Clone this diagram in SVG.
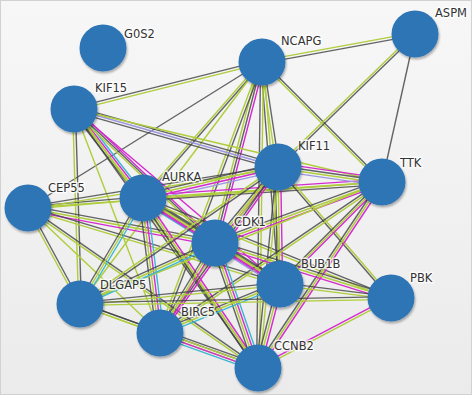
<svg xmlns="http://www.w3.org/2000/svg" width="472" height="395" viewBox="0 0 472 395">
<style>
.k{stroke:#404040;stroke-opacity:.8}
.y{stroke:#afcd3c}
.m{stroke:#d42bce}
.c{stroke:#3cb8d2}
.p{stroke:#9c97e2}
#edges use{stroke-width:1.4;fill:none}
.node circle{fill:#2e74b5;filter:url(#sh)}
.node text{font-family:"DejaVu Sans","Liberation Sans",sans-serif;font-size:11.5px;fill:#333;stroke:#fff;stroke-width:3;stroke-opacity:.75;paint-order:stroke;stroke-linejoin:round}
</style>
<defs>
<linearGradient id="bg" x1="0" y1="0" x2="0" y2="1"><stop offset="0" stop-color="#f7f7f7"/><stop offset="1" stop-color="#ebebeb"/></linearGradient>
<filter id="sh" x="-20%" y="-20%" width="150%" height="150%"><feDropShadow dx="1" dy="2" stdDeviation="1.3" flood-color="#000" flood-opacity=".3"/></filter>
<line id="e1" x1="262" y1="62" x2="415" y2="34"/>
<line id="e2" x1="262" y1="62" x2="74" y2="109"/>
<line id="e3" x1="262" y1="62" x2="278" y2="167"/>
<line id="e4" x1="262" y1="62" x2="382" y2="182"/>
<line id="e5" x1="262" y1="62" x2="143" y2="198"/>
<line id="e6" x1="262" y1="62" x2="215" y2="243"/>
<line id="e7" x1="262" y1="62" x2="280" y2="284"/>
<line id="e8" x1="262" y1="62" x2="258" y2="368"/>
<line id="e9" x1="262" y1="62" x2="80" y2="304"/>
<line id="e10" x1="262" y1="62" x2="160" y2="333"/>
<line id="e11" x1="262" y1="62" x2="28" y2="208"/>
<line id="e12" x1="415" y1="34" x2="278" y2="167"/>
<line id="e13" x1="415" y1="34" x2="382" y2="182"/>
<line id="e14" x1="74" y1="109" x2="278" y2="167"/>
<line id="e15" x1="74" y1="109" x2="382" y2="182"/>
<line id="e16" x1="74" y1="109" x2="143" y2="198"/>
<line id="e17" x1="74" y1="109" x2="215" y2="243"/>
<line id="e18" x1="74" y1="109" x2="280" y2="284"/>
<line id="e19" x1="74" y1="109" x2="258" y2="368"/>
<line id="e21" x1="74" y1="109" x2="80" y2="304"/>
<line id="e22" x1="74" y1="109" x2="160" y2="333"/>
<line id="e23" x1="28" y1="208" x2="143" y2="198"/>
<line id="e24" x1="28" y1="208" x2="215" y2="243"/>
<line id="e25" x1="28" y1="208" x2="280" y2="284"/>
<line id="e26" x1="28" y1="208" x2="80" y2="304"/>
<line id="e27" x1="28" y1="208" x2="160" y2="333"/>
<line id="e28" x1="28" y1="208" x2="258" y2="368"/>
<line id="e29" x1="28" y1="208" x2="278" y2="167"/>
<line id="e30" x1="28" y1="208" x2="382" y2="182"/>
<line id="e31" x1="143" y1="198" x2="278" y2="167"/>
<line id="e32" x1="143" y1="198" x2="382" y2="182"/>
<line id="e33" x1="143" y1="198" x2="215" y2="243"/>
<line id="e34" x1="143" y1="198" x2="280" y2="284"/>
<line id="e35" x1="143" y1="198" x2="80" y2="304"/>
<line id="e36" x1="143" y1="198" x2="160" y2="333"/>
<line id="e37" x1="143" y1="198" x2="258" y2="368"/>
<line id="e38" x1="143" y1="198" x2="391" y2="298"/>
<line id="e39" x1="278" y1="167" x2="382" y2="182"/>
<line id="e40" x1="278" y1="167" x2="215" y2="243"/>
<line id="e41" x1="278" y1="167" x2="280" y2="284"/>
<line id="e42" x1="278" y1="167" x2="258" y2="368"/>
<line id="e43" x1="278" y1="167" x2="80" y2="304"/>
<line id="e44" x1="278" y1="167" x2="160" y2="333"/>
<line id="e45" x1="278" y1="167" x2="391" y2="298"/>
<line id="e46" x1="382" y1="182" x2="215" y2="243"/>
<line id="e47" x1="382" y1="182" x2="280" y2="284"/>
<line id="e48" x1="382" y1="182" x2="258" y2="368"/>
<line id="e50" x1="382" y1="182" x2="80" y2="304"/>
<line id="e51" x1="382" y1="182" x2="160" y2="333"/>
<line id="e52" x1="215" y1="243" x2="280" y2="284"/>
<line id="e53" x1="215" y1="243" x2="258" y2="368"/>
<line id="e54" x1="215" y1="243" x2="80" y2="304"/>
<line id="e55" x1="215" y1="243" x2="160" y2="333"/>
<line id="e56" x1="215" y1="243" x2="391" y2="298"/>
<line id="e57" x1="280" y1="284" x2="391" y2="298"/>
<line id="e58" x1="280" y1="284" x2="258" y2="368"/>
<line id="e59" x1="280" y1="284" x2="80" y2="304"/>
<line id="e60" x1="280" y1="284" x2="160" y2="333"/>
<line id="e61" x1="391" y1="298" x2="258" y2="368"/>
<line id="e62" x1="391" y1="298" x2="80" y2="304"/>
<line id="e63" x1="80" y1="304" x2="160" y2="333"/>
<line id="e64" x1="80" y1="304" x2="258" y2="368"/>
<line id="e65" x1="160" y1="333" x2="258" y2="368"/>
</defs>
<rect x="0.5" y="0.5" width="471" height="394" fill="url(#bg)" stroke="#d2d2d2"/>
<g id="edges">
<use href="#e1" class="y" transform="translate(0,-1.4)"/><use href="#e1" class="k" transform="translate(0,1.4)"/>
<use href="#e2" class="k" transform="translate(0,-1.4)"/><use href="#e2" class="y" transform="translate(0,1.4)"/>
<use href="#e3" class="y" transform="translate(-1.4,0)"/><use href="#e3" class="k" transform="translate(1.4,0)"/>
<use href="#e4" class="k" transform="translate(0,-1.4)"/><use href="#e4" class="y" transform="translate(0,1.4)"/>
<use href="#e5" class="y" transform="translate(-1.4,0)"/><use href="#e5" class="k" transform="translate(1.4,0)"/>
<use href="#e6" class="y" transform="translate(-2.6,0)"/><use href="#e6" class="k"/><use href="#e6" class="m" transform="translate(2.6,0)"/>
<use href="#e7" class="k" transform="translate(-1.4,0)"/><use href="#e7" class="y" transform="translate(1.4,0)"/>
<use href="#e8" class="k" transform="translate(-1.4,0)"/><use href="#e8" class="y" transform="translate(1.4,0)"/>
<use href="#e9" class="y"/>
<use href="#e10" class="y" transform="translate(-1.4,0)"/><use href="#e10" class="k" transform="translate(1.4,0)"/>
<use href="#e11" class="k"/>
<use href="#e12" class="y" transform="translate(0,-1.4)"/><use href="#e12" class="k" transform="translate(0,1.4)"/>
<use href="#e13" class="k"/>
<use href="#e14" class="k" transform="translate(0,-2.6)"/><use href="#e14" class="p"/><use href="#e14" class="k" transform="translate(0,2.6)"/>
<use href="#e15" class="y"/>
<use href="#e16" class="k" transform="translate(-3.9,0)"/><use href="#e16" class="y" transform="translate(-1.3,0)"/><use href="#e16" class="m" transform="translate(1.3,0)"/><use href="#e16" class="c" transform="translate(3.9,0)"/>
<use href="#e17" class="m" transform="translate(0,-2.6)"/><use href="#e17" class="k"/><use href="#e17" class="y" transform="translate(0,2.6)"/>
<use href="#e18" class="m"/>
<use href="#e19" class="k" transform="translate(-1.4,0)"/><use href="#e19" class="y" transform="translate(1.4,0)"/>
<use href="#e21" class="y" transform="translate(-1.4,0)"/><use href="#e21" class="k" transform="translate(1.4,0)"/>
<use href="#e22" class="y"/>
<use href="#e23" class="k" transform="translate(0,-1.4)"/><use href="#e23" class="y" transform="translate(0,1.4)"/>
<use href="#e24" class="k" transform="translate(0,-2.6)"/><use href="#e24" class="y"/><use href="#e24" class="m" transform="translate(0,2.6)"/>
<use href="#e25" class="k" transform="translate(0,-1.4)"/><use href="#e25" class="y" transform="translate(0,1.4)"/>
<use href="#e26" class="y" transform="translate(-1.4,0)"/><use href="#e26" class="k" transform="translate(1.4,0)"/>
<use href="#e27" class="y"/>
<use href="#e28" class="k" transform="translate(0,-1.4)"/><use href="#e28" class="y" transform="translate(0,1.4)"/>
<use href="#e29" class="k" transform="translate(0,-1.4)"/><use href="#e29" class="y" transform="translate(0,1.4)"/>
<use href="#e30" class="y"/>
<use href="#e31" class="k" transform="translate(0,-3.9)"/><use href="#e31" class="y" transform="translate(0,-1.3)"/><use href="#e31" class="m" transform="translate(0,1.3)"/><use href="#e31" class="p" transform="translate(0,3.9)"/>
<use href="#e32" class="m" transform="translate(0,-2.6)"/><use href="#e32" class="y"/><use href="#e32" class="k" transform="translate(0,2.6)"/>
<use href="#e33" class="k" transform="translate(0,-3.9)"/><use href="#e33" class="y" transform="translate(0,-1.3)"/><use href="#e33" class="m" transform="translate(0,1.3)"/><use href="#e33" class="c" transform="translate(0,3.9)"/>
<use href="#e34" class="k" transform="translate(0,-2.6)"/><use href="#e34" class="y"/><use href="#e34" class="m" transform="translate(0,2.6)"/>
<use href="#e35" class="k" transform="translate(-2.6,0)"/><use href="#e35" class="y"/><use href="#e35" class="c" transform="translate(2.6,0)"/>
<use href="#e36" class="k" transform="translate(-3.9,0)"/><use href="#e36" class="y" transform="translate(-1.3,0)"/><use href="#e36" class="m" transform="translate(1.3,0)"/><use href="#e36" class="c" transform="translate(3.9,0)"/>
<use href="#e37" class="k" transform="translate(-2.6,0)"/><use href="#e37" class="y"/><use href="#e37" class="m" transform="translate(2.6,0)"/>
<use href="#e38" class="k" transform="translate(0,-1.4)"/><use href="#e38" class="y" transform="translate(0,1.4)"/>
<use href="#e39" class="m" transform="translate(0,-3.9)"/><use href="#e39" class="k" transform="translate(0,-1.3)"/><use href="#e39" class="y" transform="translate(0,1.3)"/><use href="#e39" class="p" transform="translate(0,3.9)"/>
<use href="#e40" class="k" transform="translate(-2.6,0)"/><use href="#e40" class="y"/><use href="#e40" class="m" transform="translate(2.6,0)"/>
<use href="#e41" class="k" transform="translate(-2.6,0)"/><use href="#e41" class="y"/><use href="#e41" class="m" transform="translate(2.6,0)"/>
<use href="#e42" class="k" transform="translate(-1.4,0)"/><use href="#e42" class="y" transform="translate(1.4,0)"/>
<use href="#e43" class="y" transform="translate(0,-1.4)"/><use href="#e43" class="k" transform="translate(0,1.4)"/>
<use href="#e44" class="y" transform="translate(-2.6,0)"/><use href="#e44" class="k"/><use href="#e44" class="m" transform="translate(2.6,0)"/>
<use href="#e45" class="k" transform="translate(-1.4,0)"/><use href="#e45" class="y" transform="translate(1.4,0)"/>
<use href="#e46" class="k" transform="translate(0,-2.6)"/><use href="#e46" class="y"/><use href="#e46" class="m" transform="translate(0,2.6)"/>
<use href="#e47" class="k" transform="translate(0,-2.6)"/><use href="#e47" class="y"/><use href="#e47" class="m" transform="translate(0,2.6)"/>
<use href="#e48" class="k" transform="translate(-2.6,0)"/><use href="#e48" class="y"/><use href="#e48" class="m" transform="translate(2.6,0)"/>
<use href="#e50" class="y"/>
<use href="#e51" class="k" transform="translate(0,-1.4)"/><use href="#e51" class="y" transform="translate(0,1.4)"/>
<use href="#e52" class="k" transform="translate(0,-3.9)"/><use href="#e52" class="y" transform="translate(0,-1.3)"/><use href="#e52" class="m" transform="translate(0,1.3)"/><use href="#e52" class="p" transform="translate(0,3.9)"/>
<use href="#e53" class="k" transform="translate(-3.9,0)"/><use href="#e53" class="y" transform="translate(-1.3,0)"/><use href="#e53" class="m" transform="translate(1.3,0)"/><use href="#e53" class="c" transform="translate(3.9,0)"/>
<use href="#e54" class="k" transform="translate(0,-2.6)"/><use href="#e54" class="y"/><use href="#e54" class="c" transform="translate(0,2.6)"/>
<use href="#e55" class="k" transform="translate(-2.6,0)"/><use href="#e55" class="y"/><use href="#e55" class="m" transform="translate(2.6,0)"/>
<use href="#e56" class="k" transform="translate(0,-2.6)"/><use href="#e56" class="y"/><use href="#e56" class="m" transform="translate(0,2.6)"/>
<use href="#e57" class="k" transform="translate(0,-1.4)"/><use href="#e57" class="y" transform="translate(0,1.4)"/>
<use href="#e58" class="k" transform="translate(-2.6,0)"/><use href="#e58" class="y"/><use href="#e58" class="m" transform="translate(2.6,0)"/>
<use href="#e59" class="k" transform="translate(0,-1.4)"/><use href="#e59" class="y" transform="translate(0,1.4)"/>
<use href="#e60" class="k" transform="translate(0,-2.6)"/><use href="#e60" class="y"/><use href="#e60" class="c" transform="translate(0,2.6)"/>
<use href="#e61" class="m" transform="translate(0,-1.4)"/><use href="#e61" class="y" transform="translate(0,1.4)"/>
<use href="#e62" class="k" transform="translate(0,-1.4)"/><use href="#e62" class="y" transform="translate(0,1.4)"/>
<use href="#e63" class="k" transform="translate(0,-1.4)"/><use href="#e63" class="y" transform="translate(0,1.4)"/>
<use href="#e64" class="k" transform="translate(0,-1.4)"/><use href="#e64" class="y" transform="translate(0,1.4)"/>
<use href="#e65" class="k" transform="translate(0,-3.9)"/><use href="#e65" class="y" transform="translate(0,-1.3)"/><use href="#e65" class="m" transform="translate(0,1.3)"/><use href="#e65" class="c" transform="translate(0,3.9)"/>
</g>
<g id="G0S2" class="node"><circle cx="103" cy="48" r="23.5"/><text x="124" y="38">G0S2</text></g>
<g id="KIF15" class="node"><circle cx="74" cy="109" r="23.5"/><text x="95" y="92">KIF15</text></g>
<g id="NCAPG" class="node"><circle cx="262" cy="62" r="23.5"/><text x="281" y="45">NCAPG</text></g>
<g id="ASPM" class="node"><circle cx="415" cy="34" r="23.5"/><text x="435" y="17">ASPM</text></g>
<g id="KIF11" class="node"><circle cx="278" cy="167" r="23.5"/><text x="298" y="150">KIF11</text></g>
<g id="TTK" class="node"><circle cx="382" cy="182" r="23.5"/><text x="400" y="167">TTK</text></g>
<g id="CEP55" class="node"><circle cx="28" cy="208" r="23.5"/><text x="48" y="192">CEP55</text></g>
<g id="AURKA" class="node"><circle cx="143" cy="198" r="23.5"/><text x="162" y="181">AURKA</text></g>
<g id="CDK1" class="node"><circle cx="215" cy="243" r="23.5"/><text x="234" y="226">CDK1</text></g>
<g id="BUB1B" class="node"><circle cx="280" cy="284" r="23.5"/><text x="301" y="268">BUB1B</text></g>
<g id="PBK" class="node"><circle cx="391" cy="298" r="23.5"/><text x="410" y="282">PBK</text></g>
<g id="DLGAP5" class="node"><circle cx="80" cy="304" r="23.5"/><text x="100" y="289">DLGAP5</text></g>
<g id="BIRC5" class="node"><circle cx="160" cy="333" r="23.5"/><text x="181" y="316">BIRC5</text></g>
<g id="CCNB2" class="node"><circle cx="258" cy="368" r="23.5"/><text x="274" y="350">CCNB2</text></g>
</svg>
